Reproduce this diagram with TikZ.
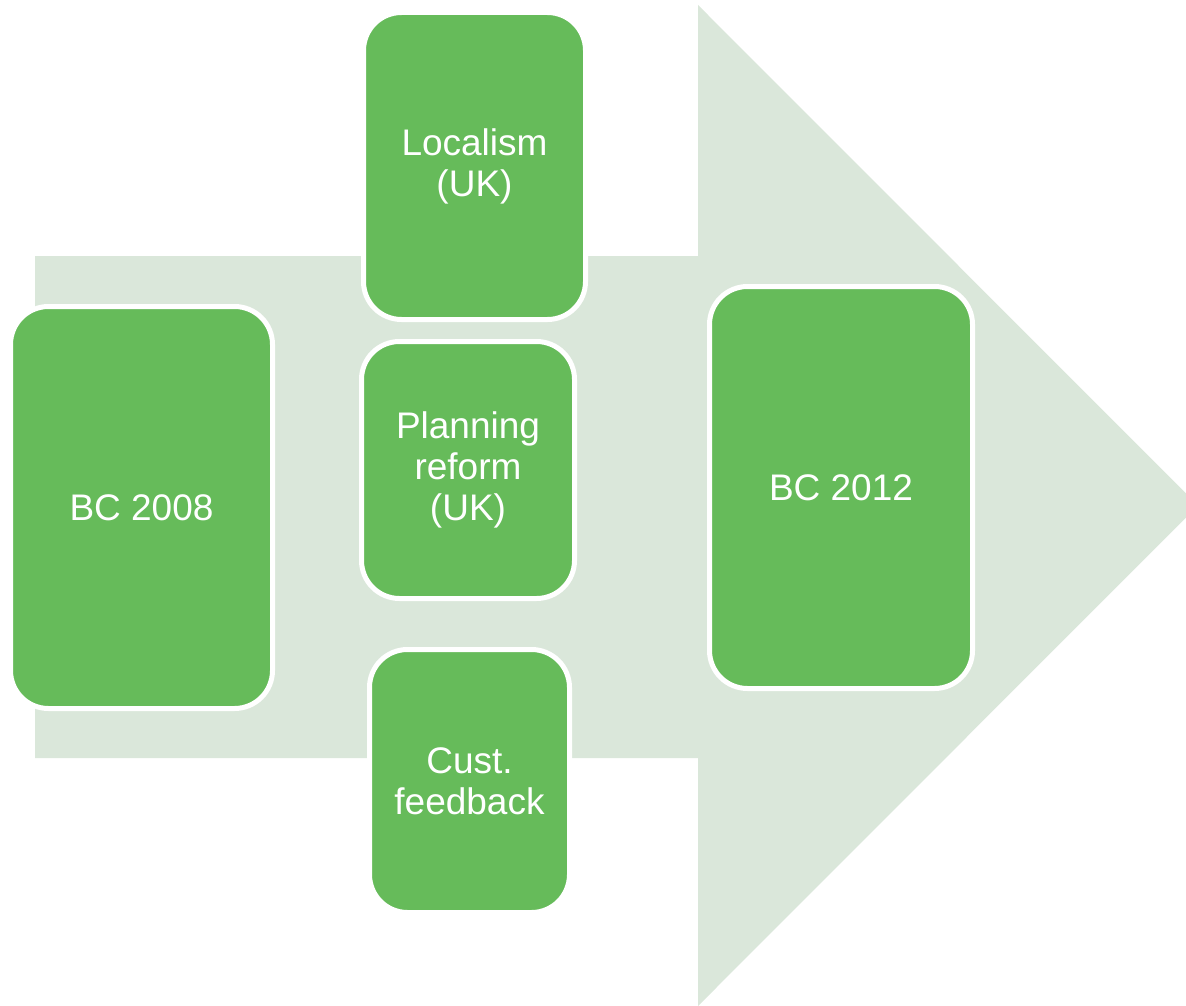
\documentclass[tikz,border=0pt]{standalone}
\usepackage{fontspec}
\setmainfont{Liberation Sans}
\usetikzlibrary{positioning}
\definecolor{boxgreen}{RGB}{102,187,90}
\definecolor{arrowgreen}{RGB}{218,231,218}
\tikzset{
  stage/.style={rectangle, rounded corners=38pt, fill=boxgreen, draw=white, line width=5pt,
    text=white, align=center, font=\fontsize{37}{41}\selectfont, inner sep=0pt}
}
\begin{document}
\begin{tikzpicture}[x=1pt,y=-1pt]
% Page frame
\useasboundingbox (0,0) rectangle (1186,1006);
\clip (0,0) rectangle (1186,1006);
% Big arrow behind the boxes
\fill[arrowgreen] (35,256) -- (698,256) -- (698,5) -- (1198,505.5) -- (698,1006) -- (698,758) -- (35,758) -- cycle;
% Start box
\node[stage, minimum width=262pt, minimum height=402pt] (bc2008) at (141.5,507.5) {BC 2008};
% Middle column of drivers
\node[stage, minimum width=222pt, minimum height=307pt] (localism) at (474.5,166) {Localism\\(UK)};
\node[stage, minimum width=213pt, minimum height=257pt] (planning) at (468,470) {Planning\\reform\\(UK)};
\node[stage, minimum width=200pt, minimum height=263pt] (feedback) at (469.5,781) {Cust.\\feedback};
% End box
\node[stage, minimum width=263pt, minimum height=402pt] (bc2012) at (841,487.5) {BC 2012};
\end{tikzpicture}
\end{document}
